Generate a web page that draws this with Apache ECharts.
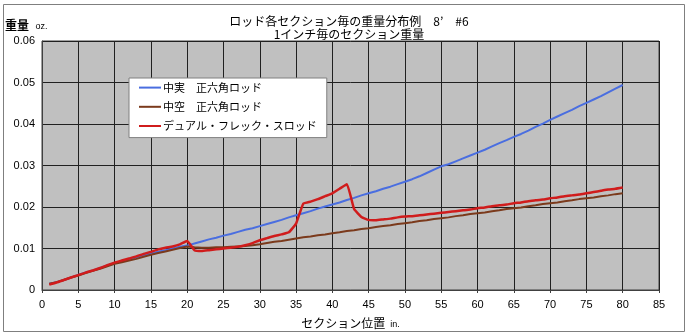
<!DOCTYPE html>
<html>
<head>
<meta charset="utf-8">
<script src="https://cdn.jsdelivr.net/npm/echarts@6/dist/echarts.min.js"></script>
<style>
  html, body { margin: 0; padding: 0; background: #ffffff; }
  #chart { width: 689px; height: 336px; }
</style>
</head>
<body>
<div id="chart"></div>
<script>
// Section position along the rod (inches)
const sections = [
  1, 2, 3, 4, 5, 6, 7, 8, 9, 10,
  11, 12, 13, 14, 15, 16, 17, 18, 19, 20,
  21, 22, 23, 24, 25, 26, 27, 28, 29, 30,
  31, 32, 33, 34, 35, 36, 37, 38, 39, 40,
  41, 42, 43, 44, 45, 46, 47, 48, 49, 50,
  51, 52, 53, 54, 55, 56, 57, 58, 59, 60,
  61, 62, 63, 64, 65, 66, 67, 68, 69, 70,
  71, 72, 73, 74, 75, 76, 77, 78, 79, 80
];

// Weight per 1-inch section (oz.)
const solidHex = [
  0.0015, 0.0019, 0.0024, 0.0030, 0.0036, 0.0042, 0.0047, 0.0053, 0.0059, 0.0065,
  0.0069, 0.0074, 0.0079, 0.0084, 0.0088, 0.0092, 0.0096, 0.0100, 0.0104, 0.0107,
  0.0112, 0.0117, 0.0122, 0.0126, 0.0131, 0.0135, 0.0140, 0.0145, 0.0149, 0.0154,
  0.0159, 0.0164, 0.0169, 0.0175, 0.0180, 0.0185, 0.0190, 0.0196, 0.0201, 0.0206,
  0.0211, 0.0217, 0.0222, 0.0228, 0.0233, 0.0238, 0.0244, 0.0249, 0.0255, 0.0261,
  0.0267, 0.0274, 0.0282, 0.0290, 0.0298, 0.0303, 0.0310, 0.0317, 0.0324, 0.0331,
  0.0338, 0.0346, 0.0354, 0.0361, 0.0369, 0.0376, 0.0384, 0.0393, 0.0401, 0.0410,
  0.0418, 0.0426, 0.0434, 0.0443, 0.0451, 0.0459, 0.0467, 0.0476, 0.0485, 0.0494
];

const hollowHex = [
  0.0015, 0.0019, 0.0024, 0.0030, 0.0035, 0.0041, 0.0046, 0.0051, 0.0057, 0.0063,
  0.0067, 0.0071, 0.0075, 0.0080, 0.0085, 0.0089, 0.0093, 0.0097, 0.0101, 0.0105,
  0.0103, 0.0102, 0.0102, 0.0103, 0.0103, 0.0104, 0.0105, 0.0106, 0.0108, 0.0110,
  0.0113, 0.0116, 0.0118, 0.0121, 0.0124, 0.0127, 0.0129, 0.0132, 0.0134, 0.0137,
  0.0139, 0.0142, 0.0144, 0.0147, 0.0149, 0.0152, 0.0154, 0.0156, 0.0159, 0.0161,
  0.0163, 0.0166, 0.0168, 0.0171, 0.0173, 0.0175, 0.0178, 0.0180, 0.0183, 0.0185,
  0.0187, 0.0190, 0.0192, 0.0195, 0.0197, 0.0199, 0.0202, 0.0204, 0.0207, 0.0209,
  0.0211, 0.0214, 0.0216, 0.0219, 0.0221, 0.0223, 0.0226, 0.0228, 0.0231, 0.0233
];

const dualFlex = [
  0.0013, 0.0018, 0.0024, 0.0030, 0.0036, 0.0042, 0.0047, 0.0053, 0.0060, 0.0066,
  0.0071, 0.0076, 0.0081, 0.0087, 0.0092, 0.0098, 0.0102, 0.0105, 0.0110, 0.0118,
  0.0096, 0.0094, 0.0096, 0.0098, 0.0100, 0.0102, 0.0104, 0.0108, 0.0113, 0.0120,
  0.0125, 0.0130, 0.0134, 0.0139, 0.0160, 0.0208, 0.0213, 0.0219, 0.0226, 0.0233,
  0.0244, 0.0255, 0.0195, 0.0176, 0.0169, 0.0168, 0.0170, 0.0172, 0.0175, 0.0177,
  0.0178, 0.0180, 0.0182, 0.0184, 0.0186, 0.0188, 0.0190, 0.0192, 0.0194, 0.0197,
  0.0199, 0.0202, 0.0204, 0.0206, 0.0209, 0.0211, 0.0214, 0.0216, 0.0218, 0.0221,
  0.0223, 0.0226, 0.0228, 0.0230, 0.0233, 0.0236, 0.0239, 0.0242, 0.0244, 0.0247
];

const seriesNames = ['中実　正六角ロッド', '中空　正六角ロッド', 'デュアル・フレック・スロッド'];
const yTicks = ['0', '0.01', '0.02', '0.03', '0.04', '0.05', '0.06'];

const pairs = (vals) => sections.map((s, i) => [s, vals[i]]);

const FONT = '"Liberation Sans", Arial, sans-serif';
const JP = '"Noto Sans CJK JP", sans-serif';

const chart = echarts.init(document.getElementById('chart'), null, { renderer: 'canvas' });

chart.setOption({
  animation: false,
  backgroundColor: '#ffffff',
  title: {
    text: 'ロッド各セクション毎の重量分布例　8’　#6\n1インチ毎のセクション重量',
    left: 344,
    top: 10,
    textAlign: 'center',
    textStyle: { fontFamily: JP, fontSize: 12, fontWeight: 'normal', color: '#000', lineHeight: 13 }
  },
  graphic: [
    {
      type: 'rect',
      shape: { x: 3.5, y: 4.5, width: 681, height: 327 },
      style: { fill: null, stroke: '#7f7f7f', lineWidth: 1 },
      z: 0
    },
    {
      type: 'text',
      left: 5,
      top: 19,
      style: {
        text: '{a|重量}{b| oz.}',
        rich: {
          a: { fontFamily: JP, fontSize: 12, fontWeight: 'bold', fill: '#000', lineHeight: 16, verticalAlign: 'bottom' },
          b: { fontFamily: FONT, fontSize: 9, fill: '#000', lineHeight: 16, verticalAlign: 'bottom', padding: [0, 0, 0, 4] }
        }
      }
    }
  ],
  legend: {
    data: seriesNames,
    orient: 'vertical',
    left: 129,
    top: 78,
    itemGap: 8,
    itemWidth: 22,
    itemHeight: 14,
    padding: [4, 10, 6, 9],
    backgroundColor: '#ffffff',
    borderColor: '#808080',
    borderWidth: 1,
    borderRadius: 0,
    itemStyle: { opacity: 0 },
    textStyle: { fontFamily: JP, fontSize: 11, color: '#000', padding: [0, 0, 0, -3] }
  },
  grid: {
    left: 42,
    right: 30,
    top: 41,
    bottom: 46,
    containLabel: false,
    outerBoundsMode: 'none',
    show: true,
    backgroundColor: '#c0c0c0',
    borderColor: '#404040',
    borderWidth: 1
  },
  xAxis: {
    type: 'value',
    min: 0,
    max: 85,
    interval: 5,
    name: '{a|セクション位置}{b|  in.}',
    nameLocation: 'middle',
    nameGap: 23,
    nameTextStyle: {
      rich: {
        a: { fontFamily: JP, fontSize: 12, color: '#000', lineHeight: 16, verticalAlign: 'bottom' },
        b: { fontFamily: FONT, fontSize: 9, color: '#000', lineHeight: 14, verticalAlign: 'bottom' }
      }
    },
    axisLine: { show: true, lineStyle: { color: '#404040', width: 1 } },
    axisTick: { show: true, length: 3, lineStyle: { color: '#404040' } },
    axisLabel: { fontFamily: FONT, fontSize: 11, color: '#000', margin: 9 },
    splitLine: { show: true, lineStyle: { color: '#202020', width: 1 } }
  },
  yAxis: {
    type: 'value',
    min: 0,
    max: 0.06,
    interval: 0.01,
    axisLine: { show: true, lineStyle: { color: '#404040', width: 1 } },
    axisTick: { show: false },
    axisLabel: {
      fontFamily: FONT, fontSize: 11, color: '#000', margin: 7,
      formatter: (v) => yTicks[Math.round(v * 100)]
    },
    splitLine: { show: true, lineStyle: { color: '#202020', width: 1 } }
  },
  series: [
    {
      name: seriesNames[0],
      type: 'line',
      data: pairs(solidHex),
      symbol: 'none',
      smooth: false,
      lineStyle: { color: '#4a6ee0', width: 2 },
      itemStyle: { color: '#4a6ee0' },
      z: 2
    },
    {
      name: seriesNames[1],
      type: 'line',
      data: pairs(hollowHex),
      symbol: 'none',
      lineStyle: { color: '#7b3a1c', width: 2 },
      itemStyle: { color: '#7b3a1c' },
      z: 3
    },
    {
      name: seriesNames[2],
      type: 'line',
      data: pairs(dualFlex),
      symbol: 'none',
      smooth: 0.12,
      lineStyle: { color: '#d01c1c', width: 2.5 },
      itemStyle: { color: '#d01c1c' },
      z: 4
    }
  ]
});
</script>
</body>
</html>
